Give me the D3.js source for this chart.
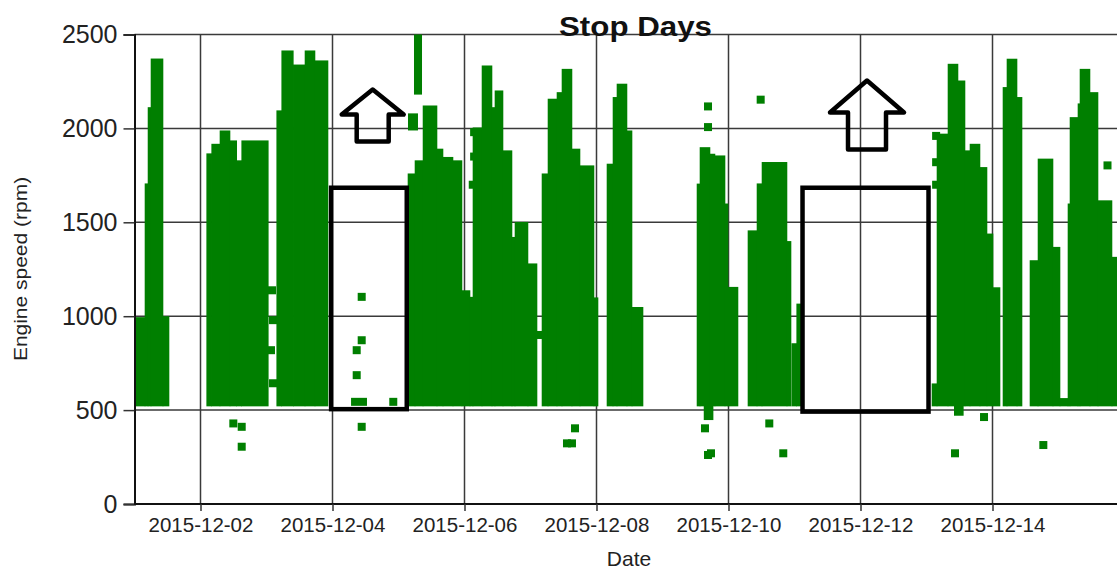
<!DOCTYPE html>
<html>
<head>
<meta charset="utf-8">
<script src="https://cdn.jsdelivr.net/npm/d3@7"></script>
<style>
  body { margin: 0; background: white; }
  svg { display: block; font-family: "Liberation Sans", Arial, sans-serif; }
</style>
</head>
<body>
<div id="viz"></div>
<script>
// engine speed readings, read off the chart as dense runs of points
// each run: [from, to, highest rpm] - the lower edge of a run sits at idle
const idleRpm = 520;
const runs = [
    ["2015-12-01 00:11", "2015-12-01 03:49", 995],
    ["2015-12-01 03:49", "2015-12-01 04:55", 1707],
    ["2015-12-01 04:55", "2015-12-01 06:00", 2113],
    ["2015-12-01 06:00", "2015-12-01 10:22", 2372],
    ["2015-12-01 10:22", "2015-12-01 12:33", 1000],
    ["2015-12-02 02:15", "2015-12-02 04:04", 1867],
    ["2015-12-02 04:04", "2015-12-02 07:05", 1918],
    ["2015-12-02 07:05", "2015-12-02 10:44", 1989],
    ["2015-12-02 10:44", "2015-12-02 13:10", 1936],
    ["2015-12-02 13:10", "2015-12-02 14:59", 1830],
    ["2015-12-02 14:59", "2015-12-03 00:39", 1936],
    ["2015-12-03 03:43", "2015-12-03 05:32", 2096],
    ["2015-12-03 05:32", "2015-12-03 09:45", 2415],
    ["2015-12-03 09:45", "2015-12-03 14:00", 2340],
    ["2015-12-03 14:00", "2015-12-03 17:38", 2415],
    ["2015-12-03 17:38", "2015-12-03 22:22", 2362],
    ["2015-12-05 03:27", "2015-12-05 06:00", 1760],
    ["2015-12-05 06:00", "2015-12-05 08:55", 1830],
    ["2015-12-05 08:55", "2015-12-05 14:00", 2122],
    ["2015-12-05 14:00", "2015-12-05 16:11", 1892],
    ["2015-12-05 16:11", "2015-12-05 19:49", 1848],
    ["2015-12-05 19:49", "2015-12-05 23:05", 1830],
    ["2015-12-05 23:05", "2015-12-06 02:00", 1138],
    ["2015-12-06 02:00", "2015-12-06 03:05", 1103],
    ["2015-12-06 03:05", "2015-12-06 06:22", 2005],
    ["2015-12-06 06:22", "2015-12-06 10:00", 2335],
    ["2015-12-06 10:00", "2015-12-06 11:05", 2113],
    ["2015-12-06 11:05", "2015-12-06 14:00", 2202],
    ["2015-12-06 14:00", "2015-12-06 17:16", 1883],
    ["2015-12-06 17:16", "2015-12-06 18:22", 1422],
    ["2015-12-06 18:22", "2015-12-06 23:05", 1502],
    ["2015-12-06 23:05", "2015-12-07 02:22", 1281],
    ["2015-12-07 04:11", "2015-12-07 06:22", 1760],
    ["2015-12-07 06:22", "2015-12-07 09:38", 2158],
    ["2015-12-07 09:38", "2015-12-07 11:27", 2193],
    ["2015-12-07 11:27", "2015-12-07 15:05", 2317],
    ["2015-12-07 15:05", "2015-12-07 18:00", 1892],
    ["2015-12-07 18:00", "2015-12-07 23:05", 1803],
    ["2015-12-07 23:05", "2015-12-08 00:33", 1100],
    ["2015-12-08 03:49", "2015-12-08 06:00", 1812],
    ["2015-12-08 06:00", "2015-12-08 07:27", 2167],
    ["2015-12-08 07:27", "2015-12-08 11:05", 2238],
    ["2015-12-08 11:05", "2015-12-08 12:55", 1989],
    ["2015-12-08 12:55", "2015-12-08 16:55", 1049],
    ["2015-12-09 12:33", "2015-12-09 13:38", 1706],
    ["2015-12-09 13:38", "2015-12-09 17:16", 1900],
    ["2015-12-09 17:16", "2015-12-09 19:05", 1865],
    ["2015-12-09 19:05", "2015-12-09 22:44", 1856],
    ["2015-12-09 22:44", "2015-12-09 23:49", 1600],
    ["2015-12-09 23:49", "2015-12-10 03:27", 1156],
    ["2015-12-10 07:05", "2015-12-10 10:22", 1457],
    ["2015-12-10 10:22", "2015-12-10 12:11", 1707],
    ["2015-12-10 12:11", "2015-12-10 21:16", 1821],
    ["2015-12-10 21:16", "2015-12-10 22:44", 1400],
    ["2015-12-10 23:00", "2015-12-11 00:48", 856],
    ["2015-12-11 00:48", "2015-12-11 02:37", 1067],
    ["2015-12-13 02:00", "2015-12-13 03:49", 642],
    ["2015-12-13 03:49", "2015-12-13 07:49", 1972],
    ["2015-12-13 07:49", "2015-12-13 11:27", 2344],
    ["2015-12-13 11:27", "2015-12-13 14:00", 2255],
    ["2015-12-13 14:00", "2015-12-13 15:49", 1883],
    ["2015-12-13 15:49", "2015-12-13 19:27", 1918],
    ["2015-12-13 19:27", "2015-12-13 22:00", 1794],
    ["2015-12-13 22:00", "2015-12-14 00:11", 1440],
    ["2015-12-14 00:11", "2015-12-14 02:44", 1154],
    ["2015-12-14 03:49", "2015-12-14 05:16", 2220],
    ["2015-12-14 05:16", "2015-12-14 08:55", 2371],
    ["2015-12-14 08:55", "2015-12-14 10:44", 2167],
    ["2015-12-14 13:38", "2015-12-14 16:33", 1298],
    ["2015-12-14 16:33", "2015-12-14 22:00", 1839],
    ["2015-12-14 22:00", "2015-12-15 00:33", 1369],
    ["2015-12-15 00:33", "2015-12-15 03:27", 564],
    ["2015-12-15 03:27", "2015-12-15 04:11", 1600],
    ["2015-12-15 04:11", "2015-12-15 07:05", 2060],
    ["2015-12-15 07:05", "2015-12-15 07:49", 2133],
    ["2015-12-15 07:49", "2015-12-15 11:27", 2317],
    ["2015-12-15 11:27", "2015-12-15 14:22", 2193],
    ["2015-12-15 14:22", "2015-12-15 19:27", 1617],
    ["2015-12-15 19:27", "2015-12-15 23:00", 1316]
];

// runs that float off idle: [from, to, low rpm, high rpm]
const floatingRuns = [
    ["2015-12-05 05:38", "2015-12-05 08:33", 2180, 2500],
    ["2015-12-05 03:27", "2015-12-05 07:05", 1989, 2080],
    ["2015-12-09 15:00", "2015-12-09 18:30", 447, 530],
    ["2015-12-13 10:00", "2015-12-13 13:30", 470, 530]
];

// single readings: [time, rpm]
const singles = [
    ["2015-12-03 02:00", 1138], ["2015-12-03 02:22", 979], ["2015-12-03 01:38", 819],
    ["2015-12-03 02:22", 643], ["2015-12-02 11:56", 429], ["2015-12-02 14:59", 411],
    ["2015-12-02 14:59", 305],
    ["2015-12-04 10:37", 1103], ["2015-12-04 10:37", 872], ["2015-12-04 08:48", 819],
    ["2015-12-04 08:48", 686], ["2015-12-04 08:12", 544], ["2015-12-04 11:05", 544],
    ["2015-12-04 22:06", 544], ["2015-12-04 10:37", 411],
    ["2015-12-06 03:30", 1980], ["2015-12-06 03:30", 1850], ["2015-12-06 03:00", 1700],
    ["2015-12-07 03:16", 900],
    ["2015-12-07 16:11", 403], ["2015-12-07 13:16", 323], ["2015-12-07 15:05", 323],
    ["2015-12-09 16:33", 2117], ["2015-12-09 16:33", 2007], ["2015-12-09 15:27", 403],
    ["2015-12-09 16:33", 261], ["2015-12-09 17:38", 270],
    ["2015-12-10 11:42", 2153], ["2015-12-10 14:50", 429], ["2015-12-10 19:55", 270],
    ["2015-12-13 03:30", 1960], ["2015-12-13 03:30", 1820], ["2015-12-13 03:30", 1700],
    ["2015-12-13 10:22", 270], ["2015-12-13 20:55", 463],
    ["2015-12-14 18:29", 314],
    ["2015-12-15 17:49", 1803]
];

const yTicks = [0, 500, 1000, 1500, 2000, 2500];
const xTicks = ["2015-12-02", "2015-12-04", "2015-12-06", "2015-12-08", "2015-12-10", "2015-12-12", "2015-12-14"];

// annotations drawn on top: stop day boxes [from, to, low rpm, high rpm] and arrows [tip time, tip rpm]
const stopBoxes = [
    ["2015-12-03 23:30", "2015-12-05 03:00", 505, 1684],
    ["2015-12-11 02:55", "2015-12-13 00:44", 492, 1684]
];
const arrows = [
    ["2015-12-04 14:37", 2207, 31, 16, 25, 52],
    ["2015-12-12 02:22", 2255, 37, 19, 32, 69]
];

const width = 1117;
const height = 569;
const plotLeft = 134.5, plotTop = 34.5, plotBottom = 504;

const parseTime = d3.timeParse("%Y-%m-%d %H:%M");
const parseDay = d3.timeParse("%Y-%m-%d");

const x = d3.scaleTime()
    .domain([parseDay("2015-12-01"), parseDay("2015-12-16")])
    .range([plotLeft, plotLeft + 66 * 15]);

const y = d3.scaleLinear()
    .domain([0, 2500])
    .range([plotBottom, plotTop]);

const svg = d3.select("#viz").append("svg")
    .attr("width", width)
    .attr("height", height);

svg.append("defs").append("clipPath").attr("id", "plot")
    .append("rect")
    .attr("x", plotLeft).attr("y", 0)
    .attr("width", width - plotLeft).attr("height", height);

// grid
const grid = svg.append("g").attr("stroke", "#3a3a3a").attr("stroke-width", 1.5);
grid.selectAll(".h").data(yTicks).enter().append("line")
    .attr("x1", plotLeft).attr("x2", width)
    .attr("y1", d => y(d)).attr("y2", d => y(d));
grid.selectAll(".v").data(xTicks).enter().append("line")
    .attr("x1", d => x(parseDay(d))).attr("x2", d => x(parseDay(d)))
    .attr("y1", plotTop).attr("y2", plotBottom);

// data
const dots = svg.append("g").attr("fill", "#007f00").attr("clip-path", "url(#plot)");

dots.selectAll(".run").data(runs).enter().append("rect")
    .attr("x", d => x(parseTime(d[0])) - 0.3)
    .attr("width", d => x(parseTime(d[1])) - x(parseTime(d[0])) + 0.6)
    .attr("y", d => y(d[2]))
    .attr("height", d => y(idleRpm) - y(d[2]));

dots.selectAll(".float").data(floatingRuns).enter().append("rect")
    .attr("x", d => x(parseTime(d[0])))
    .attr("width", d => x(parseTime(d[1])) - x(parseTime(d[0])))
    .attr("y", d => y(d[3]))
    .attr("height", d => y(d[2]) - y(d[3]));

const sq = 8;
dots.selectAll(".single").data(singles).enter().append("rect")
    .attr("x", d => x(parseTime(d[0])) - sq / 2)
    .attr("y", d => y(d[1]) - sq / 2)
    .attr("width", sq).attr("height", sq);

// axes
const yAxis = svg.append("g")
    .attr("transform", `translate(${plotLeft},0)`)
    .call(d3.axisLeft(y).tickValues(yTicks).tickSize(11).tickPadding(6).tickFormat(d3.format("d")));
yAxis.select(".domain").attr("stroke", "#111").attr("stroke-width", 2);
yAxis.selectAll(".tick line").attr("stroke", "#333").attr("stroke-width", 1.5);
yAxis.selectAll("text").attr("font-size", 25).attr("fill", "#222")
    .attr("font-family", "'Liberation Sans', Arial, sans-serif");

const xAxis = svg.append("g")
    .attr("transform", `translate(0,${plotBottom})`)
    .call(d3.axisBottom(x).tickValues(xTicks.map(parseDay)).tickSize(7).tickPadding(6)
        .tickFormat(d3.timeFormat("%Y-%m-%d")));
xAxis.select(".domain").attr("d", `M${plotLeft},0H${width}`).attr("stroke", "#111").attr("stroke-width", 2);
xAxis.selectAll(".tick line").attr("stroke", "#333").attr("stroke-width", 1.5);
xAxis.selectAll("text").attr("font-size", 20.5).attr("fill", "#222")
    .attr("font-family", "'Liberation Sans', Arial, sans-serif");

// annotations
const notes = svg.append("g").attr("fill", "none").attr("stroke", "black").attr("stroke-width", 4.5);
notes.selectAll("rect").data(stopBoxes).enter().append("rect")
    .attr("x", d => x(parseTime(d[0])))
    .attr("width", d => x(parseTime(d[1])) - x(parseTime(d[0])))
    .attr("y", d => y(d[3]))
    .attr("height", d => y(d[2]) - y(d[3]));

notes.selectAll("path").data(arrows).enter().append("path")
    .attr("stroke-linejoin", "round")
    .attr("d", d => {
        const tx = x(parseTime(d[0])), ty = y(d[1]);
        const wing = d[2], shaft = d[3], head = d[4], len = d[5];
        return `M${tx},${ty} L${tx + wing},${ty + head} H${tx + shaft} V${ty + len} H${tx - shaft} V${ty + head} H${tx - wing} Z`;
    });

// titles
svg.append("text")
    .attr("x", 635.5).attr("y", 36)
    .attr("text-anchor", "middle")
    .attr("font-size", 28).attr("font-weight", "bold")
    .attr("textLength", 153).attr("lengthAdjust", "spacingAndGlyphs")
    .attr("fill", "#111")
    .text("Stop Days");

svg.append("text")
    .attr("x", 629).attr("y", 566)
    .attr("text-anchor", "middle")
    .attr("font-size", 21).attr("fill", "#222")
    .text("Date");

svg.append("text")
    .attr("transform", "translate(27,269) rotate(-90) scale(1,0.85)")
    .attr("text-anchor", "middle")
    .attr("font-size", 21).attr("fill", "#222")
    .text("Engine speed (rpm)");
</script>
</body>
</html>
